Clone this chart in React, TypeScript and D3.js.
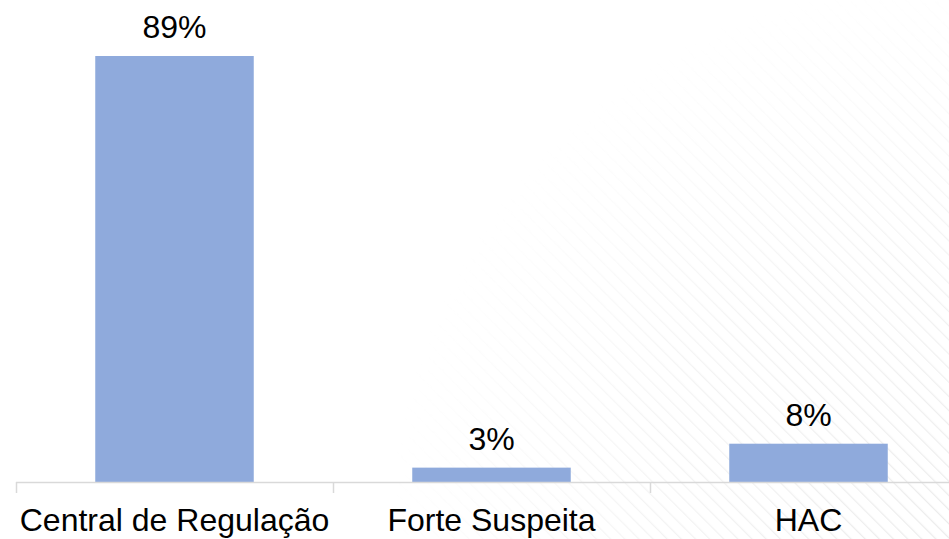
import React from "react";
import * as d3 from "d3";

const categories = ["Central de Regulação", "Forte Suspeita", "HAC"];
const values = [89, 3, 8];
const valueLabels = ["89%", "3%", "8%"];

const W = 949;
const H = 539;

export default function App() {
  const x = d3
    .scaleBand<string>()
    .domain(categories)
    .range([16, 967])
    .paddingInner(0.5)
    .paddingOuter(0.25);
  const y = d3.scaleLinear().domain([0, 89]).range([482, 56]);
  const step = x.step();
  const tickXs = [0, 1, 2, 3].map((i) => 16 + i * step);
  const font = "Arial, 'Liberation Sans', sans-serif";

  return (
    <div style={{ position: "fixed", left: 0, top: 0, width: W, height: H, background: "#fff" }}>
      <svg width={W} height={H} style={{ display: "block" }}>
        <defs>
          <pattern id="hatch" width="10" height="10" patternUnits="userSpaceOnUse" patternTransform="rotate(-45)">
            <line x1="0" y1="0" x2="0" y2="10" stroke="#e6e6e6" strokeWidth="2.5" />
          </pattern>
          <radialGradient id="fade" cx="949" cy="539" r="560" gradientUnits="userSpaceOnUse">
            <stop offset="0" stopColor="#fff" stopOpacity="0.8" />
            <stop offset="0.55" stopColor="#fff" stopOpacity="0.45" />
            <stop offset="1" stopColor="#fff" stopOpacity="0" />
          </radialGradient>
          <mask id="fadeMask">
            <rect x="0" y="0" width={W} height={H} fill="url(#fade)" />
          </mask>
        </defs>
        <rect x="0" y="0" width={W} height={H} fill="url(#hatch)" mask="url(#fadeMask)" />
        {categories.map((c, i) => (
          <rect
            key={c}
            x={x(c)}
            y={y(values[i])}
            width={x.bandwidth()}
            height={y(0) - y(values[i])}
            fill="#8faadc"
          />
        ))}
        <line x1={16} x2={W} y1={482.5} y2={482.5} stroke="#d9d9d9" strokeWidth={1.5} />
        {tickXs.map((t, i) => (
          <line key={i} x1={t + 0.5} x2={t + 0.5} y1={482} y2={493} stroke="#d9d9d9" strokeWidth={1.5} />
        ))}
        {categories.map((c, i) => (
          <text
            key={"v" + c}
            x={(x(c) as number) + x.bandwidth() / 2}
            y={y(values[i]) - 18}
            textAnchor="middle"
            fontFamily={font}
            fontSize={32}
            fill="#000"
          >
            {valueLabels[i]}
          </text>
        ))}
        {categories.map((c, i) => (
          <text
            key={"c" + c}
            x={(x(c) as number) + x.bandwidth() / 2}
            y={531}
            textAnchor="middle"
            fontFamily={font}
            fontSize={32}
            fill="#000"
          >
            {c}
          </text>
        ))}
      </svg>
    </div>
  );
}
